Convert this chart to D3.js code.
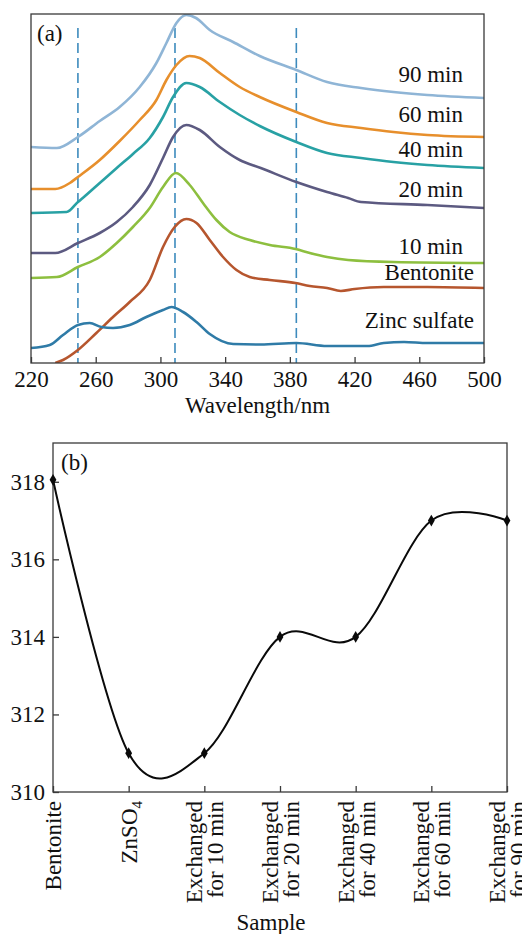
<!DOCTYPE html>
<html>
<head>
<meta charset="utf-8">
<script src="https://cdn.jsdelivr.net/npm/d3@7/dist/d3.min.js"></script>
<style>
  body { margin: 0; background: #fff; }
  svg { display: block; }
  svg text { font-family: "Liberation Serif", "Times New Roman", Times, serif !important; }
</style>
</head>
<body>
<svg id="chart" width="522" height="934"></svg>
<script>
// ---- panel (a): UV-vis spectra, intensity in arbitrary units ----
const wlTicks = [220, 260, 300, 340, 380, 420, 460, 500];
const dashedWl = [249, 309, 384];
const spectraNames = ["90 min", "60 min", "40 min", "20 min", "10 min", "Bentonite", "Zinc sulfate"];
const spectraColors = ["#8fb5d6", "#e78f2c", "#28a1a4", "#5c5a81", "#8dbf3f", "#b6562e", "#2f7ba7"];

const spec90 = [[220,216],[236,215],[249,226],[262.5,242],[274.8,256],[287.2,276],[297.5,300],[303.7,320],
  [309.9,340],[316,348],[322,345],[330.5,333],[344.9,321],[361.4,307],[384,293],[403,281],[424,275],
  [444,271],[465,268],[500,265]];
const spec60 = [[220,174],[235,174],[244,180],[249,186],[262.5,203],[274.8,222],[287.2,243],[297.5,263],
  [303.7,283],[309.9,298],[318,307],[324.3,305],[336.7,290],[349,276],[361.4,266],[384,251],[403,240],
  [424,235],[444,231],[465,228],[500,226]];
const spec40 = [[220,150],[242,151],[249,161],[252,165],[262.5,180],[273,195],[283,209],[293.4,225],
  [301.6,246],[307.8,266],[316,280],[324.3,276],[336.7,261],[349,248],[361.4,237],[384,221],[403,210],
  [424,205],[444,201],[465,198],[500,195]];
const spec20 = [[220,110],[235,110],[249,120],[262.5,130],[273,141],[283,156],[293.4,178],[301.6,205],
  [307.8,226],[316,238],[324.3,233],[336.7,216],[349,203],[362,195],[384,181],[403,171],[416,165],
  [424,161],[465,158],[500,155]];
const spec10 = [[220,85],[236,86],[249,96],[262.5,106],[273,120],[283,136],[293.4,155],[301.6,176],
  [309.5,190],[318.1,178],[326.3,160],[334.6,143],[342.8,131],[355.2,123],[367.6,118],[383.5,114],
  [392.3,110],[403,106],[416,103],[444,101],[500,100]];
const specBent = [[235,0],[239.8,3],[249,13],[260.4,30],[270.7,46],[281,61],[293.4,83],[301.6,116],
  [308.8,136],[316,144],[322.3,140],[330.5,123],[338.7,106],[347,93],[355.2,86],[367.6,83],[383.5,80],
  [392.3,77],[403,75],[411.5,72],[420,74],[438,76],[465,76],[500,75]];
const specZn = [[220,15],[231.6,18],[239.8,28],[249,38],[256.3,40],[263.5,36],[270.7,35],[281,38],
  [291.3,46],[301.6,53],[306.8,56],[314,51],[322.3,41],[330.5,29],[345,19],[362,18.5],[384,20],
  [403,17],[428,17],[438,20],[450.6,21],[465,20],[500,20]];
const spectra = [spec90, spec60, spec40, spec20, spec10, specBent, specZn];

// ---- panel (b): peak position vs sample ----
const samples = ["Bentonite", "ZnSO4", "10 min", "20 min", "40 min", "60 min", "90 min"];
const sampleLabels = [["Bentonite"], ["ZnSO4"], ["Exchanged", "for 10 min"], ["Exchanged", "for 20 min"],
  ["Exchanged", "for 40 min"], ["Exchanged", "for 60 min"], ["Exchanged", "for 90 min"]];
const peakPos = [318.05, 311, 311, 314, 314, 317, 317];
const peakTicks = [310, 312, 314, 316, 318];

const svg = d3.select("#chart");
const fs = 23;
const frameColor = "#3a3a3a";

// ================= panel (a) =================
const a = {left: 31, right: 484, top: 14, bottom: 363};
const xA = d3.scaleLinear().domain([220, 500]).range([a.left, a.right]);
const yA = d3.scaleLinear().domain([0, 349]).range([a.bottom, a.top]);

svg.append("defs").append("clipPath").attr("id", "clipA")
  .append("rect").attr("x", a.left).attr("y", a.top)
  .attr("width", a.right - a.left).attr("height", a.bottom - a.top);

const gA = svg.append("g");

// dashed reference lines
gA.selectAll("line.ref").data(dashedWl).join("line")
  .attr("class", "ref")
  .attr("x1", d => xA(d)).attr("x2", d => xA(d))
  .attr("y1", 28).attr("y2", a.bottom)
  .attr("stroke", "#3d8bbd").attr("stroke-width", 1.6)
  .attr("stroke-dasharray", "10,5");

const lineA = d3.line().x(d => xA(d[0])).y(d => yA(d[1])).curve(d3.curveMonotoneX);
gA.append("g").attr("clip-path", "url(#clipA)")
  .selectAll("path").data(spectra).join("path")
  .attr("d", lineA)
  .attr("fill", "none")
  .attr("stroke", (d, i) => spectraColors[i])
  .attr("stroke-width", 2.6)
  .attr("stroke-linejoin", "round");

// frame
gA.append("rect").attr("x", a.left).attr("y", a.top)
  .attr("width", a.right - a.left).attr("height", a.bottom - a.top)
  .attr("fill", "none").attr("stroke", frameColor).attr("stroke-width", 1.3);

// x axis, ticks pointing inward
const axA = gA.append("g").attr("transform", `translate(0,${a.bottom})`)
  .call(d3.axisBottom(xA).tickValues(wlTicks).tickSize(-6).tickPadding(8).tickFormat(d3.format("d")));
axA.select(".domain").remove();
axA.selectAll("line").attr("stroke", frameColor).attr("stroke-width", 1.3);
axA.selectAll("text").attr("font-size", fs).attr("fill", "#111");

gA.append("text").attr("x", (a.left + a.right) / 2).attr("y", 413)
  .attr("text-anchor", "middle").attr("font-size", fs).attr("fill", "#111").text("Wavelength/nm");

gA.append("text").attr("x", 37).attr("y", 41).attr("font-size", fs).attr("fill", "#111").text("(a)");

// curve labels (right aligned)
const labelLayout = [[463, 82], [463, 122], [463, 157], [463, 197], [463, 254], [474, 280], [474, 328]];
gA.selectAll("text.lab").data(spectraNames).join("text")
  .attr("class", "lab")
  .attr("x", (d, i) => labelLayout[i][0]).attr("y", (d, i) => labelLayout[i][1])
  .attr("text-anchor", "end").attr("font-size", fs).attr("fill", "#111")
  .text(d => d);

// ================= panel (b) =================
const b = {left: 53, right: 507, top: 443, bottom: 792};
const xB = d3.scalePoint().domain(samples).range([b.left, b.right]).padding(0);
const yB = d3.scaleLinear().domain([310, 319]).range([b.bottom, b.top]);

const gB = svg.append("g");

gB.append("rect").attr("x", b.left).attr("y", b.top)
  .attr("width", b.right - b.left).attr("height", b.bottom - b.top)
  .attr("fill", "none").attr("stroke", frameColor).attr("stroke-width", 1.3);

const ayB = gB.append("g").attr("transform", `translate(${b.left},0)`)
  .call(d3.axisLeft(yB).tickValues(peakTicks).tickSize(-6).tickPadding(8));
ayB.select(".domain").remove();
ayB.selectAll("line").attr("stroke", frameColor).attr("stroke-width", 1.3);
ayB.selectAll("text").attr("font-size", fs).attr("fill", "#111");

const axB = gB.append("g").attr("transform", `translate(0,${b.bottom})`)
  .call(d3.axisBottom(xB).tickSize(-6).tickFormat(""));
axB.select(".domain").remove();
axB.selectAll("line").attr("stroke", frameColor).attr("stroke-width", 1.3);

// rotated sample labels
const lab = gB.selectAll("g.slab").data(samples).join("g")
  .attr("class", "slab")
  .attr("transform", d => `translate(${xB(d)},801) rotate(-90)`);
lab.each(function(d, i) {
  const lines = sampleLabels[i];
  const g = d3.select(this);
  lines.forEach((ln, j) => {
    const off = lines.length === 1 ? 0 : (j === 0 ? -10 : 11);
    const t = g.append("text").attr("x", 0).attr("y", off).attr("dy", "0.35em")
      .attr("text-anchor", "end").attr("font-size", fs).attr("fill", "#111");
    if (ln === "ZnSO4") {
      t.append("tspan").text("ZnSO");
      t.append("tspan").attr("font-size", 15).attr("dy", 5).text("4");
    } else {
      t.text(ln);
    }
  });
});

gB.append("text").attr("x", 271).attr("y", 930).attr("text-anchor", "middle")
  .attr("font-size", fs).attr("fill", "#111").text("Sample");

gB.append("text").attr("x", 61).attr("y", 470).attr("font-size", fs).attr("fill", "#111").text("(b)");

const lineB = d3.line().x((d, i) => xB(samples[i])).y(d => yB(d)).curve(d3.curveCardinal.tension(0));
gB.append("path").datum(peakPos).attr("d", lineB)
  .attr("fill", "none").attr("stroke", "#0a0a0a").attr("stroke-width", 2);

gB.selectAll("path.pt").data(peakPos).join("path")
  .attr("class", "pt")
  .attr("transform", (d, i) => `translate(${xB(samples[i])},${yB(d)})`)
  .attr("d", d3.symbol(d3.symbolDiamond, 40))
  .attr("fill", "#0a0a0a");
</script>
</body>
</html>
